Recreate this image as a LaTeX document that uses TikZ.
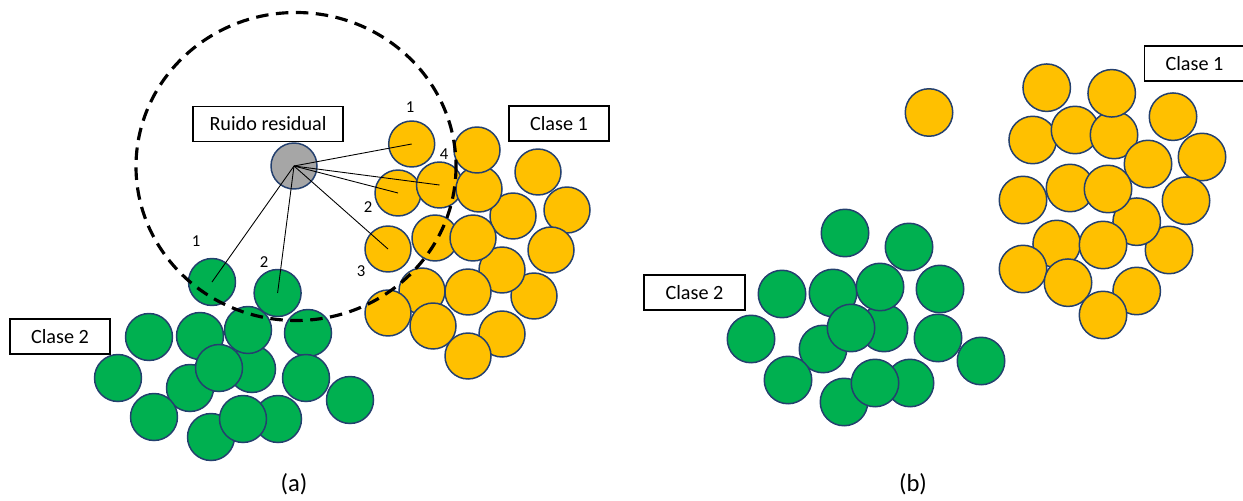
\documentclass[tikz,border=0pt]{standalone}
\usepackage{fontspec}
\setmainfont{Carlito}
\definecolor{gold}{HTML}{FFC000}
\definecolor{leaf}{HTML}{00B050}
\definecolor{rim}{HTML}{24406E}
\definecolor{noisegray}{HTML}{A6A6A6}
\begin{document}
\begin{tikzpicture}[x=0.02cm,y=-0.02cm,
  ball/.style={circle,draw=rim,line width=0.85pt,inner sep=0pt,minimum size=0.93cm},
  yel/.style={ball,fill=gold},
  yelL/.style={yel,minimum size=0.92cm},
  yelR/.style={yel,minimum size=0.95cm},
  grn/.style={ball,fill=leaf,minimum size=0.94cm},
  grnR/.style={grn,minimum size=0.95cm},
  noise/.style={ball,fill=noisegray,minimum size=0.92cm},
  tagbox/.style={draw=black,line width=0.6pt,fill=white,minimum height=0.7cm,inner sep=0pt,
    font=\fontsize{11.5}{13}\selectfont},
  num/.style={inner sep=0pt,font=\fontsize{9.5}{11}\selectfont},
  captext/.style={inner sep=0pt,font=\fontsize{14}{16}\selectfont},
  link/.style={draw=black,line width=0.5pt},
  reach/.style={draw=black,line width=1.8pt,dash pattern=on 0.25cm off 0.15cm}]
\useasboundingbox (0,0) rectangle (1243,500);

% ---------------- panel (a) ----------------
% class 1 cluster
\node[yelL] (ya1)  at (411.7,144) {};
\node[yelL] (ya4)  at (398,193) {};
\node[yelL] (ya3)  at (439.5,185) {};
\node[yelL] (ya7)  at (538,172) {};
\node[yelL] (ya8)  at (567,210) {};
\node[yelL] (ya6)  at (513,216) {};
\node[yelL] (ya5)  at (479,189) {};
\node[yelL] (ya2)  at (477,150) {};
\node[yelL] (ya12) at (551,250) {};
\node[yelL] (ya14) at (534,296) {};
\node[yelL] (ya13) at (502,270) {};
\node[yelL] (ya9)  at (388,249) {};
\node[yelL] (ya10) at (435,238) {};
\node[yelL] (ya11) at (473,238) {};
\node[yelL] (ya15) at (422,291) {};
\node[yelL] (ya16) at (468,292) {};
\node[yelL] (ya17) at (388,313) {};
\node[yelL] (ya18) at (433,326) {};
\node[yelL] (ya19) at (502,334) {};
\node[yelL] (ya20) at (468,356) {};

% class 2 cluster
\node[grn] (ga1)  at (212,282) {};
\node[grn] (ga2)  at (277.6,293) {};
\node[grn] (ga3)  at (149,337) {};
\node[grn] (ga9)  at (252,369) {};
\node[grn] (ga4)  at (200,336) {};
\node[grn] (ga5)  at (248,330) {};
\node[grn] (ga6)  at (308,333) {};
\node[grn] (ga7)  at (118,378) {};
\node[grn] (ga8)  at (190,388) {};
\node[grn] (ga10) at (219,368) {};
\node[grn] (ga11) at (306,378) {};
\node[grn] (ga12) at (350,400) {};
\node[grn] (ga13) at (154,417) {};
\node[grn] (ga14) at (211,437) {};
\node[grn] (ga15) at (278,419) {};
\node[grn] (ga16) at (243,419) {};

% residual noise point and its neighbourhood
\node[noise] (nz) at (294,166) {};
\draw[reach] (296,166.5) ellipse [x radius=160, y radius=154];

\draw[link] (nz.center) -- (ya1.center);
\draw[link] (nz.center) -- (ya3.center);
\draw[link] (nz.center) -- (ya4.center);
\draw[link] (nz.center) -- (ya9.center);
\draw[link] (nz.center) -- (ga1.center);
\draw[link] (nz.center) -- (ga2.center);

\node[num] (n1) at (410,107) {1};
\node[num] (n4) at (444,154) {4};
\node[num] (n2) at (368,207) {2};
\node[num] (n3) at (361,271) {3};
\node[num] (m1) at (196,241) {1};
\node[num] (m2) at (264,262) {2};

\node[tagbox,minimum width=3cm] (ruido) at (268,124) {Ruido residual};
\node[tagbox,minimum width=2cm] (c1a) at (559,123.5) {Clase 1};
\node[tagbox,minimum width=2cm] (c2a) at (60,336.5) {Clase 2};

\node[captext] (capa) at (294,484) {(a)};

% ---------------- panel (b) ----------------
\node[yelR] (yb0)  at (929,112.5) {};
\node[yelR] (yb1)  at (1046.7,87.7) {};
\node[yelR] (yb4)  at (1032.7,140) {};
\node[yelR] (yb3)  at (1075,130) {};
\node[yelR] (yb7)  at (1173,116.7) {};
\node[yelR] (yb8)  at (1202,157) {};
\node[yelR] (yb5)  at (1114,135) {};
\node[yelR] (yb6)  at (1148,164) {};
\node[yelR] (yb2)  at (1111.7,93.3) {};
\node[yelR] (yb12) at (1186,200.7) {};
\node[yelR] (yb14) at (1169,250) {};
\node[yelR] (yb13) at (1136.7,221.7) {};
\node[yelR] (yb9)  at (1023,200) {};
\node[yelR] (yb10) at (1070,188) {};
\node[yelR] (yb11) at (1108,189) {};
\node[yelR] (yb15) at (1056.7,244) {};
\node[yelR] (yb16) at (1103,245) {};
\node[yelR] (yb17) at (1023,269) {};
\node[yelR] (yb18) at (1068,282.7) {};
\node[yelR] (yb19) at (1136.7,291) {};
\node[yelR] (yb20) at (1103,315) {};

\node[grnR] (gb1)  at (845,233) {};
\node[grnR] (gb2)  at (909,247) {};
\node[grnR] (gb3)  at (782,294) {};
\node[grnR] (gb9)  at (884,328) {};
\node[grnR] (gb4)  at (833,293) {};
\node[grnR] (gb5)  at (880,287) {};
\node[grnR] (gb6)  at (940,289) {};
\node[grnR] (gb7)  at (751,339) {};
\node[grnR] (gb8)  at (823,349) {};
\node[grnR] (gb10) at (851,328) {};
\node[grnR] (gb11) at (938,338) {};
\node[grnR] (gb12) at (981,361) {};
\node[grnR] (gb13) at (788,380) {};
\node[grnR] (gb14) at (844,402) {};
\node[grnR] (gb15) at (910,383) {};
\node[grnR] (gb16) at (875,383) {};

\node[tagbox,minimum width=2cm] (c1b) at (1194.5,63.5) {Clase 1};
\node[tagbox,minimum width=2.02cm] (c2b) at (694.5,292.5) {Clase 2};

\node[captext] (capb) at (913,484) {(b)};
\end{tikzpicture}
\end{document}
